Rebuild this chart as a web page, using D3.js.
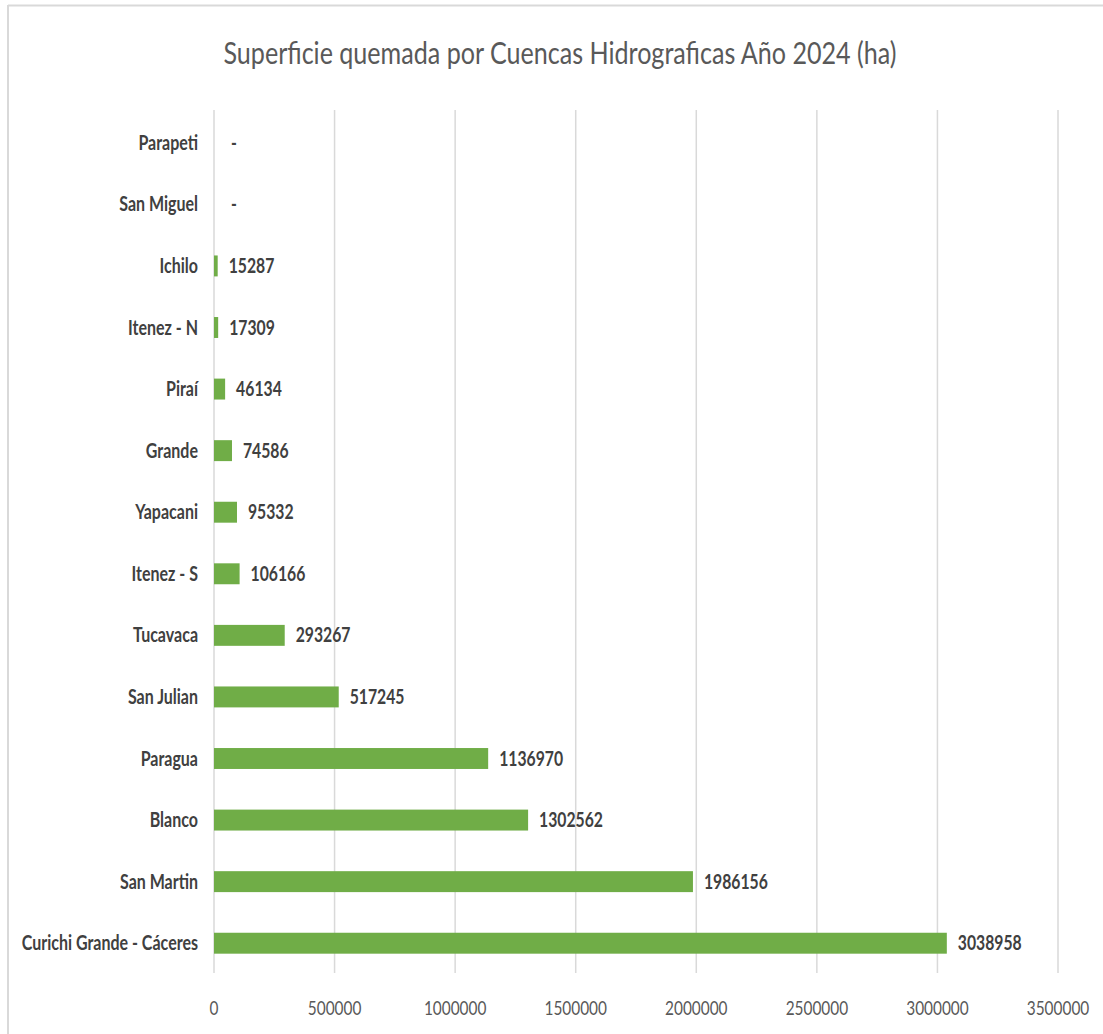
<!DOCTYPE html>
<html>
<head>
<meta charset="utf-8">
<script src="https://cdn.jsdelivr.net/npm/d3@7"></script>
<style>
  html, body { margin: 0; padding: 0; background: #fff; }
  svg { display: block; }
  text { font-family: Lato, "Open Sans", sans-serif; }
</style>
</head>
<body>
<script>
const categories = ["Parapeti","San Miguel","Ichilo","Itenez - N","Piraí","Grande","Yapacani","Itenez - S","Tucavaca","San Julian","Paragua","Blanco","San Martin","Curichi Grande - Cáceres"];
const values = [0,0,15287,17309,46134,74586,95332,106166,293267,517245,1136970,1302562,1986156,3038958];
const tickValues = [0,500000,1000000,1500000,2000000,2500000,3000000,3500000];
const title = "Superficie quemada por Cuencas Hidrograficas Año 2024 (ha)";

const W = 1103, H = 1034;
const svg = d3.select("body").append("svg").attr("width", W).attr("height", H);
svg.append("rect").attr("width", W).attr("height", H).attr("fill", "#fff");

// chart border (top and left visible)
svg.append("line").attr("x1", 8).attr("x2", W).attr("y1", 5.5).attr("y2", 5.5).attr("stroke", "#d9d9d9").attr("stroke-width", 2);
svg.append("line").attr("x1", 8).attr("x2", 8).attr("y1", 5).attr("y2", H).attr("stroke", "#d9d9d9").attr("stroke-width", 2);

const x = d3.scaleLinear().domain([0, 3500000]).range([214, 1058]);
const y = d3.scaleBand().domain(categories).range([112, 974]).paddingInner(0.66).paddingOuter(0.33);

// helper: horizontally condensed text
function ctext(g, tx, ty, str, opts) {
  const grp = g.append("g").attr("transform", `translate(${tx},${ty}) scale(${opts.sx},1)`);
  return grp.append("text").attr("x", 0).attr("y", 0)
    .attr("text-anchor", opts.anchor || "start")
    .attr("font-size", opts.size)
    .attr("font-weight", opts.weight || "normal")
    .attr("fill", opts.fill)
    .text(str);
}

// gridlines
const grid = svg.append("g");
grid.selectAll("line").data(tickValues).join("line")
  .attr("x1", d => x(d)).attr("x2", d => x(d))
  .attr("y1", 110).attr("y2", 973)
  .attr("stroke", "#d9d9d9").attr("stroke-width", 1.5);

// x axis tick labels
const axisG = svg.append("g");
tickValues.forEach(t => ctext(axisG, x(t), 1015, String(t), {sx: 0.77, size: 20, fill: "#595959", anchor: "middle"}));

// bars
svg.append("g").selectAll("rect").data(values).join("rect")
  .attr("x", x(0))
  .attr("y", (d, i) => y(categories[i]))
  .attr("width", d => x(d) - x(0))
  .attr("height", y.bandwidth())
  .attr("fill", "#70AD47");

// category labels
const catG = svg.append("g");
categories.forEach(c => ctext(catG, 198, y(c) + y.bandwidth() / 2 + 7, c, {sx: 0.8, size: 20, weight: "bold", fill: "#404040", anchor: "end"}));

// value labels
const valG = svg.append("g");
values.forEach((v, i) => {
  const label = v === 0 ? "-" : String(v);
  const xpos = v === 0 ? x(0) + 17 : x(v) + 11;
  ctext(valG, xpos, y(categories[i]) + y.bandwidth() / 2 + 7, label, {sx: 0.75, size: 21, weight: "bold", fill: "#404040"});
});

// title
ctext(svg, 560, 64, title, {sx: 0.81, size: 31, fill: "#595959", anchor: "middle"});
</script>
</body>
</html>
